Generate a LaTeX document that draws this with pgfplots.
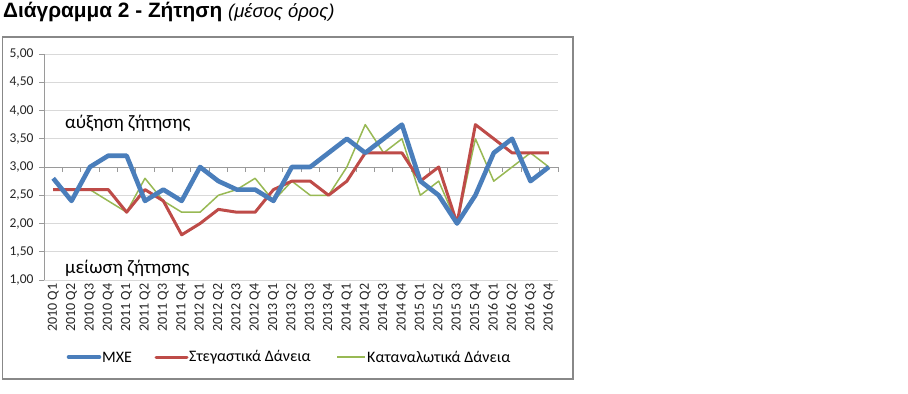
\documentclass[border=0pt]{standalone}
\usepackage{fontspec}
\setmainfont{Carlito}
\newfontfamily\arialfont{Liberation Sans}
\usepackage{pgfplots}
\usepackage{pgfplotstable}
\pgfplotsset{compat=1.18}
\definecolor{cblue}{HTML}{4A7EBB}
\definecolor{cred}{HTML}{BE4B48}
\definecolor{cgreen}{HTML}{98B954}
\definecolor{cframe}{HTML}{888888}
\definecolor{cgrid}{HTML}{D9D9D9}
\definecolor{caxis}{HTML}{9A9A9A}
\pgfplotstableread{
x mxe steg kat
0 2.80 2.60 2.60
1 2.40 2.60 2.60
2 3.00 2.60 2.60
3 3.20 2.60 2.40
4 3.20 2.20 2.20
5 2.40 2.60 2.80
6 2.60 2.40 2.40
7 2.40 1.80 2.20
8 3.00 2.00 2.20
9 2.75 2.25 2.50
10 2.60 2.20 2.60
11 2.60 2.20 2.80
12 2.40 2.60 2.40
13 3.00 2.75 2.75
14 3.00 2.75 2.50
15 3.25 2.50 2.50
16 3.50 2.75 3.00
17 3.25 3.25 3.75
18 3.50 3.25 3.25
19 3.75 3.25 3.50
20 2.75 2.75 2.50
21 2.50 3.00 2.75
22 2.00 2.00 2.00
23 2.50 3.75 3.50
24 3.25 3.50 2.75
25 3.50 3.25 3.00
26 2.75 3.25 3.25
27 3.00 3.25 3.00
}\datatable
\begin{document}
\begin{tikzpicture}
\begin{scope}[x=1bp,y=1bp]
\useasboundingbox (0,0) rectangle (908,393);
\fill[white] (0,0) rectangle (908,393);
% title
\node[anchor=base west, inner sep=0pt] at (3,375.5) {\arialfont\fontsize{20.8bp}{22bp}\selectfont\bfseries Διάγραμμα 2 - Ζήτηση \fontsize{18.5bp}{20bp}\selectfont\mdseries\itshape (μέσος όρος)};
% frame
\draw[cframe, line width=1.3bp] (2.5,356) rectangle (573,14);
% legend
\draw[cblue, line width=4.6bp, line cap=round] (69,36) -- (99,36);
\node[anchor=west, inner sep=0pt, font=\fontsize{16bp}{18bp}\selectfont] at (102,36) {ΜΧΕ};
\draw[cred, line width=3bp, line cap=round] (156,36) -- (187,36);
\node[anchor=west, inner sep=0pt, font=\fontsize{16bp}{18bp}\selectfont] at (189,36) {Στεγαστικά Δάνεια};
\draw[cgreen, line width=1.5bp] (337,36) -- (365,36);
\node[anchor=west, inner sep=0pt, font=\fontsize{16bp}{18bp}\selectfont] at (367,36) {Καταναλωτικά Δάνεια};
\end{scope}
\begin{axis}[
  at={(44bp,113bp)}, anchor=south west,
  scale only axis, width=514bp, height=226bp,
  xmin=-0.5, xmax=27.5, ymin=1, ymax=5,
  axis line style={draw=none},
  ymajorgrids, grid style={cgrid, line width=1bp},
  ytick={1,1.5,2,2.5,3,3.5,4,4.5,5},
  yticklabels={{1,00},{1,50},{2,00},{2,50},{3,00},{3,50},{4,00},{4,50},{5,00}},
  yticklabel style={font=\fontsize{13.5bp}{15bp}\selectfont, text=black!85, xshift=-7bp},
  ytick style={draw=none},
  xtick={0,...,27},
  xticklabels={2010 Q1,2010 Q2,2010 Q3,2010 Q4,2011 Q1,2011 Q2,2011 Q3,2011 Q4,2012 Q1,2012 Q2,2012 Q3,2012 Q4,2013 Q1,2013 Q2,2013 Q3,2013 Q4,2014 Q1,2014 Q2,2014 Q3,2014 Q4,2015 Q1,2015 Q2,2015 Q3,2015 Q4,2016 Q1,2016 Q2,2016 Q3,2016 Q4},
  xticklabel style={rotate=90, anchor=east, font=\fontsize{14bp}{15bp}\selectfont, text=black!85},
  xtick style={draw=none},
  clip=false,
]
% y axis line with ticks
\draw[caxis, line width=1bp] (axis cs:-0.5,1) -- (axis cs:-0.5,5);
\pgfplotsinvokeforeach{1,1.5,2,2.5,3,3.5,4,4.5,5}{\draw[caxis, line width=1bp] (axis cs:-0.5,#1) -- ++(-5bp,0bp);}
% horizontal axis at 3
\draw[caxis, line width=1bp] (axis cs:-0.5,3) -- (axis cs:27.5,3);
\pgfplotsinvokeforeach{-0.5,0.5,1.5,2.5,3.5,4.5,5.5,6.5,7.5,8.5,9.5,10.5,11.5,12.5,13.5,14.5,15.5,16.5,17.5,18.5,19.5,20.5,21.5,22.5,23.5,24.5,25.5,26.5,27.5}{\draw[caxis, line width=1bp] (axis cs:#1,3) -- ++(0bp,-5bp);}
\addplot[cgreen, line width=1.5bp, line join=round] table[x=x, y=kat] {\datatable};
\addplot[cred, line width=3bp, line join=round] table[x=x, y=steg] {\datatable};
\addplot[cblue, line width=4.6bp, line join=round] table[x=x, y=mxe] {\datatable};
\node[anchor=west, inner sep=0pt, font=\fontsize{19bp}{21bp}\selectfont] at (axis cs:0.64,3.78) {αύξηση ζήτησης};
\node[anchor=west, inner sep=0pt, font=\fontsize{19bp}{21bp}\selectfont] at (axis cs:0.64,1.21) {μείωση ζήτησης};
\end{axis}
\end{tikzpicture}
\end{document}
